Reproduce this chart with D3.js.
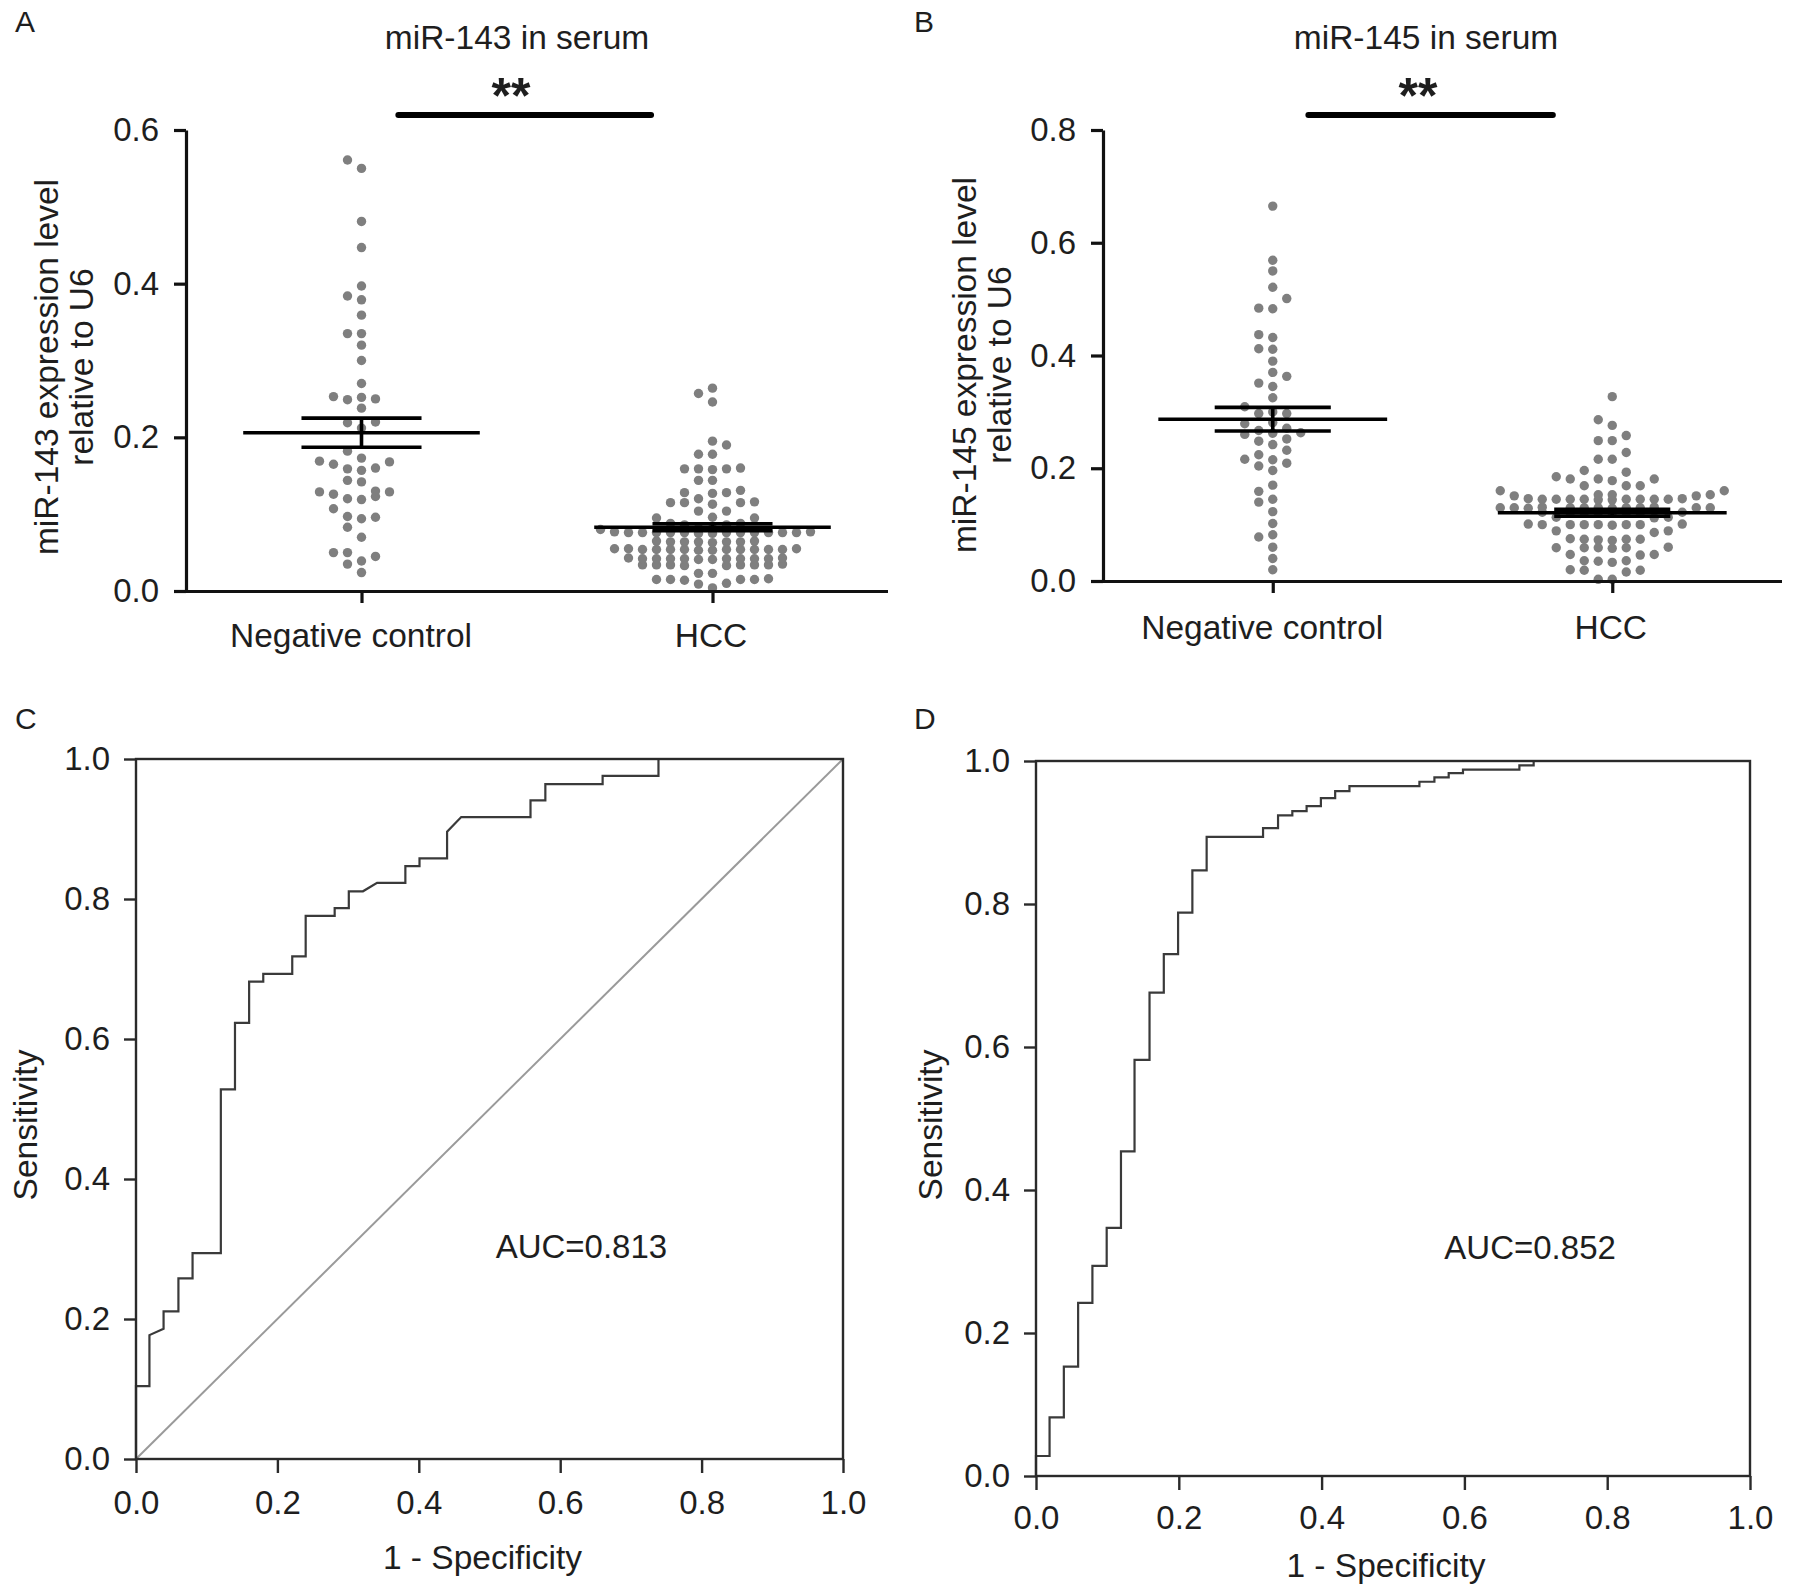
<!DOCTYPE html>
<html>
<head>
<meta charset="utf-8">
<script src="https://cdnjs.cloudflare.com/ajax/libs/d3/7.8.5/d3.min.js"></script>
<style>
  html, body { margin: 0; padding: 0; background: #fff; }
  svg { display: block; }
  text { font-family: "Liberation Sans", Arial, Helvetica, sans-serif; fill: #1e1e1e; }
</style>
</head>
<body>
<svg id="chart" width="1795" height="1592"></svg>
<script>
// ---------------- DATA ----------------
const categories = ["Negative control", "HCC"];

// Panel A: miR-143 in serum
const miR143_NC = [0.561, 0.550, 0.481, 0.447, 0.397, 0.384, 0.379, 0.359, 0.335, 0.335,
  0.320, 0.300, 0.270, 0.253, 0.252, 0.250, 0.249, 0.238, 0.220, 0.219, 0.212, 0.182,
  0.173, 0.169, 0.168, 0.165, 0.160, 0.159, 0.157, 0.144, 0.142, 0.130, 0.129, 0.129,
  0.126, 0.123, 0.120, 0.119, 0.107, 0.097, 0.096, 0.094, 0.083, 0.070, 0.050, 0.050,
  0.045, 0.039, 0.035, 0.024];
const miR143_HCC = [0.264, 0.257, 0.246, 0.195, 0.190, 0.178, 0.178,
  0.159, 0.159, 0.160, 0.159, 0.158, 0.144, 0.144,
  0.131, 0.128, 0.128, 0.127, 0.120, 0.115, 0.115, 0.116, 0.115, 0.113, 0.104, 0.104,
  0.095, 0.095, 0.096, 0.088, 0.088, 0.086, 0.086, 0.082, 0.082, 0.080,
  0.076, 0.076, 0.077, 0.076, 0.076, 0.075, 0.076, 0.076, 0.077, 0.076, 0.076, 0.075, 0.076, 0.076, 0.076,
  0.064, 0.064, 0.065, 0.064, 0.063, 0.064, 0.064, 0.065,
  0.054, 0.054, 0.055, 0.054, 0.053, 0.054, 0.054, 0.055, 0.054, 0.054, 0.053, 0.054, 0.054, 0.055,
  0.042, 0.042, 0.041, 0.042, 0.043, 0.042, 0.042, 0.041, 0.042, 0.042, 0.043, 0.042,
  0.034, 0.034, 0.033, 0.034, 0.035, 0.034, 0.034, 0.033, 0.034,
  0.023, 0.023, 0.015, 0.015, 0.016, 0.015, 0.014, 0.015, 0.009, 0.010, 0.004];
const miR143_mean = [0.206, 0.083];
const miR143_sem = [0.019, 0.0045];
const miR143_ticks = [0.0, 0.2, 0.4, 0.6];

// Panel B: miR-145 in serum
const miR145_NC = [0.665, 0.569, 0.550, 0.521, 0.501, 0.484, 0.483, 0.437, 0.432, 0.412,
  0.411, 0.390, 0.370, 0.363, 0.351, 0.345, 0.325, 0.309, 0.300, 0.297, 0.297, 0.281,
  0.279, 0.271, 0.267, 0.263, 0.262, 0.260, 0.252, 0.248, 0.242, 0.232, 0.224, 0.216,
  0.215, 0.209, 0.204, 0.196, 0.170, 0.159, 0.145, 0.140, 0.123, 0.102, 0.082, 0.078,
  0.060, 0.040, 0.020];
const miR145_HCC = [0.327, 0.286, 0.276, 0.258, 0.249, 0.249, 0.228, 0.216, 0.216, 0.196,
  0.193, 0.185, 0.181, 0.181, 0.181, 0.178, 0.169, 0.169, 0.169, 0.160, 0.160,
  0.153, 0.153, 0.153, 0.151, 0.151,
  0.145, 0.145, 0.146, 0.145, 0.144, 0.145, 0.145, 0.146, 0.145, 0.144, 0.145, 0.145,
  0.130, 0.130, 0.131, 0.130, 0.129, 0.130, 0.130, 0.131, 0.130, 0.129, 0.130, 0.130, 0.130,
  0.121, 0.121, 0.122, 0.121, 0.120, 0.121, 0.121, 0.122,
  0.113, 0.113, 0.112,
  0.100, 0.100, 0.101, 0.100, 0.099, 0.100, 0.100, 0.101, 0.100,
  0.089, 0.089, 0.086,
  0.074, 0.074, 0.075, 0.074, 0.073, 0.072,
  0.059, 0.059, 0.060, 0.059, 0.058, 0.059,
  0.047, 0.047, 0.046, 0.036, 0.036, 0.035, 0.033,
  0.019, 0.019, 0.020, 0.016, 0.003, 0.003];
const miR145_mean = [0.287, 0.121];
const miR145_sem = [0.021, 0.006];
const miR145_ticks = [0.0, 0.2, 0.4, 0.6, 0.8];

// Panel C: ROC for miR-143 (vertices of the empirical curve)
const rocC_fpr = [0, 0, 0.019, 0.019, 0.039, 0.039, 0.060, 0.060, 0.080, 0.080, 0.120, 0.120,
  0.140, 0.140, 0.160, 0.160, 0.180, 0.180, 0.221, 0.221, 0.240, 0.240, 0.281, 0.281,
  0.301, 0.301, 0.321, 0.341, 0.381, 0.381, 0.401, 0.401, 0.440, 0.440, 0.460, 0.558,
  0.558, 0.579, 0.579, 0.660, 0.660, 0.739, 0.739, 1.0];
const rocC_tpr = [0, 0.104, 0.104, 0.177, 0.186, 0.211, 0.211, 0.258, 0.258, 0.294, 0.294, 0.528,
  0.528, 0.623, 0.623, 0.682, 0.682, 0.693, 0.693, 0.718, 0.718, 0.776, 0.776, 0.787,
  0.787, 0.811, 0.811, 0.823, 0.823, 0.847, 0.847, 0.858, 0.858, 0.896, 0.917, 0.917,
  0.941, 0.941, 0.964, 0.964, 0.976, 0.976, 1.0, 1.0];
const aucC = "AUC=0.813";

// Panel D: ROC for miR-145
const rocD_fpr = [0, 0, 0.019, 0.019, 0.039, 0.039, 0.059, 0.059, 0.079, 0.079, 0.099, 0.099,
  0.119, 0.119, 0.138, 0.138, 0.159, 0.159, 0.179, 0.179, 0.199, 0.199, 0.219, 0.219,
  0.239, 0.239, 0.318, 0.318, 0.339, 0.339, 0.359, 0.359, 0.379, 0.379, 0.399, 0.399,
  0.419, 0.419, 0.439, 0.439, 0.537, 0.537, 0.558, 0.558, 0.578, 0.578, 0.598, 0.598,
  0.677, 0.677, 0.697, 0.697, 1.0];
const rocD_tpr = [0, 0.028, 0.028, 0.082, 0.082, 0.153, 0.153, 0.242, 0.242, 0.294, 0.294, 0.347,
  0.347, 0.454, 0.454, 0.582, 0.582, 0.676, 0.676, 0.730, 0.730, 0.788, 0.788, 0.847,
  0.847, 0.894, 0.894, 0.906, 0.906, 0.924, 0.924, 0.930, 0.930, 0.937, 0.937, 0.948,
  0.948, 0.958, 0.958, 0.965, 0.965, 0.971, 0.971, 0.977, 0.977, 0.983, 0.983, 0.988,
  0.988, 0.994, 0.994, 1.0, 1.0];
const aucD = "AUC=0.852";

const rocTicks = [0.0, 0.2, 0.4, 0.6, 0.8, 1.0];

// ---------------- DRAWING ----------------
const svg = d3.select("#chart");
svg.append("rect").attr("width", 1795).attr("height", 1592).attr("fill", "#fff");
const fmt = d3.format(".1f");
const FONT_TICK = 33, FONT_LABEL = 33.5;
const FAM = '"Liberation Sans", Arial, sans-serif';

function panelLetter(letter, x, y) {
  svg.append("text").attr("x", x).attr("y", y).attr("font-size", 30).text(letter);
}

// column-based dot swarm: sparse dots keep a full dot of space, dense rows may overlap slightly
function swarm(values, yScale, cx, colW) {
  const pts = values.map(v => ({ v, y: yScale(v) }));
  pts.forEach(d => {
    const n = pts.filter(p => p !== d && Math.abs(p.y - d.y) <= 3.5).length;
    d.gap = n >= 3 ? 5 : 10.5;
  });
  pts.sort((a, b) => b.y - a.y);
  const cols = new Map();
  pts.forEach(d => {
    for (let i = 0; ; i++) {
      const k = i === 0 ? 0 : (i % 2 ? -Math.ceil(i / 2) : Math.ceil(i / 2));
      const arr = cols.get(k) || [];
      if (arr.every(p => Math.abs(p.y - d.y) >= Math.max(p.gap, d.gap))) {
        arr.push(d); cols.set(k, arr); d.k = k; break;
      }
    }
  });
  return pts.map(d => ({ v: d.v, y: d.y, x: cx + d.k * colW }));
}

function scatterPanel(cfg) {
  const g = svg.append("g");
  const y = d3.scaleLinear().domain([0, cfg.ymax]).range([cfg.y0, cfg.y1]);
  const x = d3.scalePoint().domain(categories).range([cfg.x0, cfg.x1]).padding(0.5);
  const step = x.step();

  // dots
  [cfg.nc, cfg.hcc].forEach((vals, i) => {
    const pts = swarm(vals, y, x(categories[i]), 14);
    g.append("g").selectAll("circle").data(pts).join("circle")
      .attr("cx", d => d.x).attr("cy", d => d.y).attr("r", 4.7)
      .attr("fill", "#7f7f7f");
  });

  // mean and SEM
  categories.forEach((c, i) => {
    const cx = x(c), m = cfg.mean[i], s = cfg.sem[i];
    const mw = 0.337 * step, cw = 0.171 * step;
    const eg = g.append("g").attr("stroke", "#000").attr("stroke-width", 3.6);
    eg.append("line").attr("x1", cx - mw).attr("x2", cx + mw).attr("y1", y(m)).attr("y2", y(m));
    eg.append("line").attr("x1", cx - cw).attr("x2", cx + cw).attr("y1", y(m + s)).attr("y2", y(m + s));
    eg.append("line").attr("x1", cx - cw).attr("x2", cx + cw).attr("y1", y(m - s)).attr("y2", y(m - s));
    eg.append("line").attr("x1", cx).attr("x2", cx).attr("y1", y(m + s)).attr("y2", y(m - s));
  });

  // y axis
  const ya = g.append("g").attr("transform", `translate(${cfg.x0},0)`)
    .call(d3.axisLeft(y).tickValues(cfg.ticks).tickFormat(fmt).tickSize(12).tickPadding(15).tickSizeOuter(0));
  ya.select(".domain").attr("stroke", "#111").attr("stroke-width", 3.2);
  ya.selectAll(".tick line").attr("stroke", "#111").attr("stroke-width", 3.2);
  ya.selectAll(".tick text").attr("font-size", FONT_TICK).attr("fill", "#1e1e1e").attr("font-family", FAM);

  // x axis
  const xa = g.append("g").attr("transform", `translate(0,${cfg.y0})`)
    .call(d3.axisBottom(x).tickSize(12).tickPadding(cfg.catPad).tickSizeOuter(0));
  xa.select(".domain").attr("stroke", "#111").attr("stroke-width", 3.2)
    .attr("d", `M${cfg.x0 - 1.6},0.5H${cfg.x1}`);
  xa.selectAll(".tick line").attr("stroke", "#111").attr("stroke-width", 3.2);
  xa.selectAll(".tick text").attr("font-size", FONT_LABEL).attr("fill", "#1e1e1e").attr("font-family", FAM)
    .attr("dx", (d, i) => i === 0 ? -11 : -2);

  // y label (two lines)
  cfg.ylabel.forEach((t, i) => {
    g.append("text").attr("transform", `translate(${cfg.ylabX[i]},${cfg.ylabY}) rotate(-90)`)
      .attr("text-anchor", "middle").attr("dy", "0.35em").attr("font-size", FONT_LABEL).text(t);
  });

  // title
  g.append("text").attr("x", cfg.titleX).attr("y", 37).attr("dy", "0.35em")
    .attr("text-anchor", "middle").attr("font-size", FONT_LABEL).text(cfg.title);

  // significance bar
  const barY = cfg.y1 - 15;
  g.append("line").attr("x1", x(categories[0]) + 0.105 * step).attr("x2", x(categories[1]) - 0.175 * step)
    .attr("y1", barY).attr("y2", barY).attr("stroke", "#000").attr("stroke-width", 6).attr("stroke-linecap", "round");
  g.append("text").attr("x", cfg.starX).attr("y", barY - 2).attr("text-anchor", "middle")
    .attr("font-size", 50).attr("font-weight", "bold").text("**");
}

function rocPanel(cfg) {
  const g = svg.append("g");
  const x = d3.scaleLinear().domain([0, 1]).range([cfg.x0, cfg.x1]);
  const y = d3.scaleLinear().domain([0, 1]).range([cfg.y0, cfg.y1]);

  if (cfg.diag) {
    g.append("line").attr("x1", x(0)).attr("y1", y(0)).attr("x2", x(1)).attr("y2", y(1))
      .attr("stroke", "#9a9a9a").attr("stroke-width", 2);
  }
  const pts = cfg.fpr.map((f, i) => [f, cfg.tpr[i]]);
  g.append("path").datum(pts)
    .attr("d", d3.line().x(d => x(d[0])).y(d => y(d[1])))
    .attr("fill", "none").attr("stroke", "#3a3a3a").attr("stroke-width", 2.2);

  // frame
  g.append("rect").attr("x", cfg.x0).attr("y", cfg.y1).attr("width", cfg.x1 - cfg.x0).attr("height", cfg.y0 - cfg.y1)
    .attr("fill", "none").attr("stroke", "#2a2a2a").attr("stroke-width", 2.4);

  const ya = g.append("g").attr("transform", `translate(${cfg.x0},0)`)
    .call(d3.axisLeft(y).tickValues(rocTicks).tickFormat(fmt).tickSize(12).tickPadding(14).tickSizeOuter(0));
  ya.select(".domain").remove();
  ya.selectAll(".tick line").attr("stroke", "#2a2a2a").attr("stroke-width", 2.4);
  ya.selectAll(".tick text").attr("font-size", FONT_TICK).attr("fill", "#1e1e1e").attr("font-family", FAM);

  const xa = g.append("g").attr("transform", `translate(0,${cfg.y0})`)
    .call(d3.axisBottom(x).tickValues(rocTicks).tickFormat(fmt).tickSize(14).tickPadding(cfg.xPad).tickSizeOuter(0));
  xa.select(".domain").remove();
  xa.selectAll(".tick line").attr("stroke", "#2a2a2a").attr("stroke-width", 2.4);
  xa.selectAll(".tick text").attr("font-size", FONT_TICK).attr("fill", "#1e1e1e").attr("font-family", FAM);

  g.append("text").attr("x", (cfg.x0 + cfg.x1) / 2 - 7).attr("y", cfg.xTitleY).attr("dy", "0.35em")
    .attr("text-anchor", "middle").attr("font-size", FONT_LABEL).text("1 - Specificity");
  g.append("text").attr("transform", `translate(${cfg.yTitleX},${cfg.yTitleY}) rotate(-90)`)
    .attr("text-anchor", "middle").attr("dy", "0.35em").attr("font-size", FONT_LABEL).text("Sensitivity");
  g.append("text").attr("x", x(cfg.aucPos[0])).attr("y", y(cfg.aucPos[1])).attr("dy", "0.35em")
    .attr("text-anchor", "middle").attr("font-size", FONT_TICK).text(cfg.auc);
}

panelLetter("A", 15, 32);
panelLetter("B", 914, 32);
panelLetter("C", 15, 729);
panelLetter("D", 914, 729);

scatterPanel({
  x0: 186, x1: 888, y0: 591, y1: 130, ymax: 0.6,
  nc: miR143_NC, hcc: miR143_HCC, mean: miR143_mean, sem: miR143_sem, ticks: miR143_ticks,
  catPad: 20, ylabel: ["miR-143 expression level", "relative to U6"], ylabX: [46, 81], ylabY: 367,
  title: "miR-143 in serum", titleX: 517, starX: 511
});

scatterPanel({
  x0: 1103, x1: 1782, y0: 581, y1: 130, ymax: 0.8,
  nc: miR145_NC, hcc: miR145_HCC, mean: miR145_mean, sem: miR145_sem, ticks: miR145_ticks,
  catPad: 22, ylabel: ["miR-145 expression level", "relative to U6"], ylabX: [964, 999], ylabY: 365,
  title: "miR-145 in serum", titleX: 1426, starX: 1418
});

rocPanel({
  x0: 136, x1: 843, y0: 1459, y1: 759, fpr: rocC_fpr, tpr: rocC_tpr, diag: true,
  xPad: 18, xTitleY: 1557, yTitleX: 25, yTitleY: 1125, auc: aucC, aucPos: [0.63, 0.304]
});

rocPanel({
  x0: 1036, x1: 1750, y0: 1476, y1: 761, fpr: rocD_fpr, tpr: rocD_tpr, diag: false,
  xPad: 16, xTitleY: 1565, yTitleX: 930, yTitleY: 1125, auc: aucD, aucPos: [0.692, 0.319]
});
</script>
</body>
</html>
